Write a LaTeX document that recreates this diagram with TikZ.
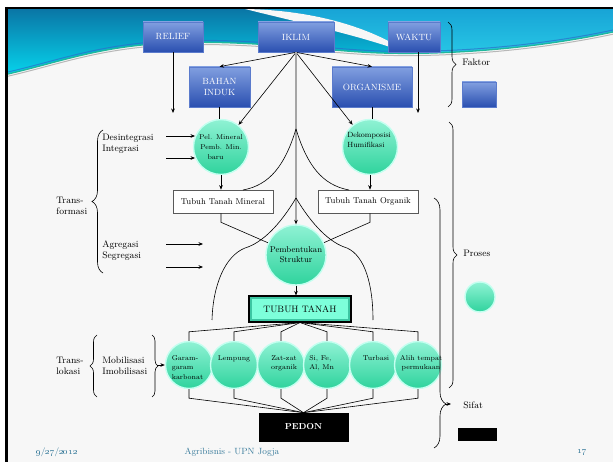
\documentclass[tikz,border=0pt]{standalone}
\usetikzlibrary{arrows.meta,decorations.pathreplacing,calc}
\definecolor{slidebg}{HTML}{F7F7F7}
\definecolor{hdtop}{HTML}{0A76A6}
\definecolor{hdbot}{HTML}{06D4EC}
\definecolor{hdrtop}{HTML}{18A4D6}
\definecolor{hdrbot}{HTML}{2ACDE8}
\definecolor{wavegreen}{HTML}{1FB89C}
\definecolor{waveblue}{HTML}{2B6FC8}
\definecolor{bxlight}{HTML}{819FE0}
\definecolor{bxdark}{HTML}{2A4FB0}
\definecolor{bxedge}{HTML}{5B7BCC}
\definecolor{cirtop}{HTML}{8FF2D4}
\definecolor{cirbot}{HTML}{2FD39D}
\definecolor{ciredge}{HTML}{C4FFF0}
\definecolor{tbfill}{HTML}{7DFFDA}
\definecolor{tbedge}{HTML}{3DC6A2}
\definecolor{foot}{HTML}{3A7C9C}
\definecolor{grayline}{HTML}{A6A6A6}
\newcommand{\fsz}[2]{\fontsize{#1}{#2}\selectfont}
\begin{document}
\begin{tikzpicture}[x=1pt,y=-1pt,
  line width=0.6pt,
  arr/.style={-{Stealth[length=4.5pt,width=3.6pt]}},
  bluebox/.style={rectangle,draw=bxedge,line width=0.7pt,top color=bxlight,bottom color=bxdark,text=white,font=\fsz{9}{10.5},align=center,inner sep=0pt},
  greenc/.style={circle,draw=ciredge,line width=1.4pt,top color=cirtop,bottom color=cirbot,inner sep=0pt,minimum size=#1},
  wbox/.style={rectangle,draw=black!65,line width=0.6pt,fill=white,font=\fsz{8.5}{10},inner sep=0pt,minimum width=100pt,minimum height=23pt},
  lbl/.style={font=\fsz{9.4}{11},align=left,inner sep=0pt,anchor=west},
  ctext/.style={font=\fsz{7}{9.5},inner sep=0pt},
  brc/.style={decorate,decoration={brace,amplitude=#1},line width=0.6pt},
  foottext/.style={font=\fsz{9}{11},text=foot,inner sep=0pt},
]
\useasboundingbox (0,0) rectangle (613,462);
\fill[white] (0,0) rectangle (613,462);
\fill[slidebg] (5,7) rectangle (613,462);

% header
\begin{scope}
\clip (8,9) -- (8,74) .. controls (60,62) and (100,46) .. (170,43) .. controls (240,40) and (300,48) .. (360,52) .. controls (420,56) and (520,52) .. (613,32) -- (613,9) -- cycle;
\shade[top color=hdtop,bottom color=hdbot] (8,9) rectangle (613,75);
\shade[top color=hdrtop,bottom color=hdrbot] (245,9) .. controls (310,10) and (370,26) .. (410,54) -- (430,62) -- (613,62) -- (613,9) -- cycle;
\fill[slidebg] (245,9) .. controls (310,10) and (370,26) .. (410,54) .. controls (362,36) and (305,24) .. (245,9) -- cycle;
\end{scope}
\draw[waveblue,line width=1pt,opacity=0.7,yshift=2pt] (8,74) .. controls (60,62) and (100,46) .. (170,43) .. controls (240,40) and (300,48) .. (360,52) .. controls (420,56) and (520,52) .. (613,32);
\draw[wavegreen,line width=1.3pt] (8,74) .. controls (60,62) and (100,46) .. (170,43) .. controls (240,40) and (300,48) .. (360,52) .. controls (420,56) and (520,52) .. (613,32);
\draw[grayline!80,line width=1pt,yshift=-2.2pt] (8,74) .. controls (60,62) and (100,46) .. (170,43) .. controls (240,40) and (300,48) .. (360,52) .. controls (420,56) and (520,52) .. (613,32);

% frame
\draw[black,line width=2pt] (5,8) -- (613,8);
\draw[black,line width=3pt] (6.5,7) -- (6.5,462);

% factor boxes
\node[bluebox,minimum width=60pt,minimum height=30pt] (relief) at (173,37) {RELIEF};
\node[bluebox,minimum width=76pt,minimum height=30pt] (iklim) at (296,37) {IKLIM};
\node[bluebox,minimum width=52pt,minimum height=30pt] (waktu) at (414,37) {WAKTU};
\node[bluebox,minimum width=61pt,minimum height=40pt] (bahan) at (219.5,87) {BAHAN\\INDUK};
\node[bluebox,minimum width=80pt,minimum height=40pt] (organ) at (372,87) {ORGANISME};

% process circles
\node[greenc=55pt,font=\fsz{7}{10},align=center] (pel) at (221,147) {Pel. Mineral\\Pemb. Min.\\\hspace*{-11pt}baru};
\node[greenc=55pt] (dek) at (370,147) {};
\node[font=\fsz{7.5}{9.5},align=left,inner sep=0pt,anchor=north west] (dekt) at (347,132) {Dekomposisi\\Humifikasi};
\node[wbox] (ttm) at (223,201.5) {Tubuh Tanah Mineral};
\node[wbox] (tto) at (368,201.5) {Tubuh Tanah Organik};
\node[greenc=60pt,font=\fsz{8.5}{10},align=center] (pem) at (296,255) {Pembentukan\\Struktur};
\node[rectangle,draw=black,line width=1.1pt,fill=tbedge,minimum width=102pt,minimum height=26pt,inner sep=0pt,font=\fsz{9.3}{11},
  path picture={\fill[tbfill] ($(path picture bounding box.south west)+(3,-3)$) rectangle ($(path picture bounding box.north east)+(-3,3)$);}] (tt) at (300,309) {TUBUH TANAH};

% six circles
\foreach \n/\x in {c1/189,c2/234,c3/281,c4/327,c5/373,c6/418}
  \node[greenc=47pt] (\n) at (\x,365) {};
\node[ctext,align=left,anchor=north west] (c1t) at (171.5,355) {Garam-\\garam\\karbonat};
\node[ctext,anchor=north] (c2t) at (234,355) {Lempung};
\node[ctext,align=center,anchor=north] (c3t) at (284,355) {Zat-zat\\organik};
\node[ctext,align=left,anchor=north west] (c4t) at (309,355) {Si, Fe,\\Al, Mn};
\node[ctext,anchor=north] (c5t) at (376,355) {Turbasi};
\node[ctext,align=center,anchor=north] (c6t) at (421,355) {Alih tempat\\permukaan};

\node[rectangle,fill=black,draw=black,minimum width=89pt,minimum height=28pt,text=white,font=\bfseries\fsz{8.7}{10},inner sep=0pt] (pedon) at (303.5,427) {PEDON};

% connectors top
\coordinate (rend) at (173,113);
\coordinate (wend) at (418,113);
\draw[arr] (relief) -- (rend);
\draw[arr] (waktu.south -| wend) -- (wend);
\draw[arr] (iklim.south) -- (bahan.north);
\draw[arr] (iklim.south) -- (organ.north);
\draw[arr] (iklim.south) -- (pel);
\draw[arr] (iklim.south) -- (dek);
\draw[grayline,line width=1.4pt,-{Stealth[black,length=4.5pt,width=3.6pt]}] (iklim.south) -- (pem.north);
\draw (bahan.south) -- (bahan.south |- pel.north);
\draw (organ.south) -- (organ.south |- dek.north);
\draw[arr] (pel.south) -- (pel.south |- ttm.north);
\draw[arr] (dek.south) -- (dek.south |- tto.north);
\draw (ttm.south -| pel.south) -- ++(0,9) -- (pem);
\draw (tto.south -| dek.south) -- ++(0,9) -- (pem);
\draw[arr] (pem.south) -- (pem.south |- tt.north);

% curves
\draw (296,129) .. controls (285,165) and (270,185) .. (243,190);
\draw (296,129) .. controls (307,165) and (322,185) .. (349,190);
\draw (296,198) .. controls (280,225) and (262,243) .. (245,248) .. controls (225,256) and (213,285) .. (212,320);
\draw (296,198) .. controls (312,225) and (330,243) .. (347,248) .. controls (365,256) and (373,285) .. (373,320);

% fan lines
\foreach \n in {c1,c2,c3,c4,c5,c6}{
  \draw (tt.south) -- ($(\n.north)+(0,-9)$) -- (\n.north);
  \draw (\n.south) -- ($(\n.south)+(0,9)$) -- (pedon.north);
}

% left labels
\node[lbl] (tf) at (56,206) {Trans-\\formasi};
\node[lbl] (di) at (102,143.5) {Desintegrasi\\Integrasi};
\node[lbl] (ag) at (102,250.5) {Agregasi\\Segregasi};
\node[lbl] (tl) at (56,366) {Trans-\\lokasi};
\node[lbl] (mo) at (102,365.5) {Mobilisasi\\Imobilisasi};
\draw[brc=11pt] (103,273) -- (103,130);
\draw[brc=7pt] (97,397) -- (97,335);
\draw[brc=6pt] (152,335) -- (152,397);

\coordinate (lx) at (166,0);
\draw[arr] (lx |- pel.157) -- (pel.157);
\draw[arr] (lx |- pel.203) -- (pel.203);
\coordinate (a1s) at (166,244); \coordinate (a1e) at (203,244);
\coordinate (a2s) at (166,267); \coordinate (a2e) at (203,267);
\draw[arr] (a1s) -- (a1e);
\draw[arr] (a2s) -- (a2e);
\coordinate (tlk) at (157,365);
\draw[arr] (tlk) -- (c1.west);

% right braces and legend
\draw[brc=8pt] (448,22) -- (448,107);
\draw[brc=8pt] (449,122) -- (449,388);
\draw[decorate,decoration={brace,amplitude=12pt,aspect=0.824}] (434,198) -- (434,448);
\coordinate (sfa) at (445,404); \coordinate (sfb) at (451,404);
\draw[arr] (sfa) -- (sfb);
\node[lbl] (fak) at (462,62) {Faktor};
\node[lbl] (pro) at (463,253) {Proses};
\node[lbl] (sif) at (463,405) {Sifat};
\node[bluebox,minimum width=34pt,minimum height=25pt] (legb) at (479,94.5) {};
\node[greenc=30pt] (legc) at (480,297) {};
\node[rectangle,fill=black,minimum width=39pt,minimum height=13pt,inner sep=0pt] (legp) at (477.5,434.5) {};

% footer
\node[foottext] (fdate) at (57,452) {\oldstylenums{9}/\oldstylenums{27}/\oldstylenums{2012}};
\node[foottext] (fmid) at (232,452) {Agribisnis - UPN Jogja};
\node[foottext] (fnum) at (582,452) {\oldstylenums{17}};
\end{tikzpicture}
\end{document}
